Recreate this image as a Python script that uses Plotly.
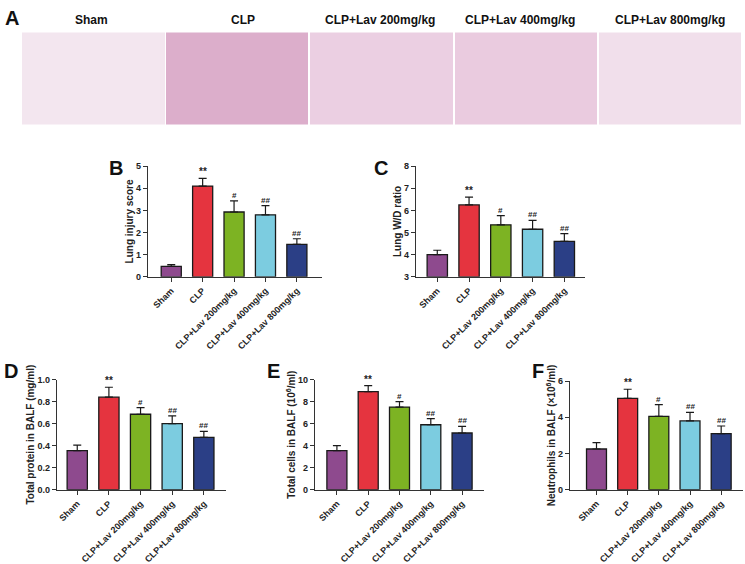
import plotly.graph_objects as go

W, H = 745, 564
FONT = "Arial, Liberation Sans, sans-serif"

groups = ["Sham", "CLP", "CLP+Lav 200mg/kg", "CLP+Lav 400mg/kg", "CLP+Lav 800mg/kg"]
colors = ["#8E4A8E", "#E5343F", "#7DB323", "#7CCCE0", "#2B3F86"]
sig = ["", "**", "#", "##", "##"]

# Panel B: lung injury score
b_mean = [0.47, 4.10, 2.93, 2.80, 1.47]
b_err = [0.08, 0.35, 0.50, 0.42, 0.25]
# Panel C: lung W/D ratio
c_mean = [4.00, 6.25, 5.35, 5.15, 4.60]
c_err = [0.20, 0.35, 0.42, 0.40, 0.35]
# Panel D: total protein in BALF
d_mean = [0.355, 0.84, 0.685, 0.60, 0.475]
d_err = [0.050, 0.09, 0.060, 0.07, 0.055]
# Panel E: total cells in BALF
e_mean = [3.55, 8.90, 7.50, 5.90, 5.15]
e_err = [0.45, 0.55, 0.50, 0.55, 0.60]
# Panel F: neutrophils in BALF
f_mean = [2.25, 5.05, 4.05, 3.80, 3.10]
f_err = [0.35, 0.50, 0.65, 0.47, 0.42]

# Panel A (histology photos) – approximated by their average tint
a_tints = ["#F3E6EF", "#DCAECB", "#EBCFE2", "#EACBDF", "#F1DFEB"]

def px_x(a, b):
    return [a / W, b / W]

def px_y(top, bottom):
    return [1 - bottom / H, 1 - top / H]

panels = [
    dict(key="B", mean=b_mean, err=b_err, xd=px_x(148, 322), yd=px_y(164.7, 277.7),
         yr=[0, 5], dt=1, xr=[-0.74, 4.8], title="Lung injury score", fmt="", letter=(107, 153)),
    dict(key="C", mean=c_mean, err=c_err, xd=px_x(416, 585), yd=px_y(164.7, 277.7),
         yr=[3, 8], dt=1, xr=[-0.67, 4.65], title="Lung W/D ratio", fmt="", base=3, letter=(372, 153)),
    dict(key="D", mean=d_mean, err=d_err, xd=px_x(57, 226), yd=px_y(382.7, 495.3),
         yr=[0, 1], dt=0.2, xr=[-0.64, 4.7], title="Total protein in BALF (mg/ml)", fmt=".1f", letter=(2, 361)),
    dict(key="E", mean=e_mean, err=e_err, xd=px_x(315, 484), yd=px_y(382.7, 495.3),
         yr=[0, 10], dt=2, xr=[-0.7, 4.7], title="Total cells in BALF (10<sup>6</sup>/ml)", fmt="", letter=(265, 361)),
    dict(key="F", mean=f_mean, err=f_err, xd=px_x(570, 743), yd=px_y(384.3, 495.3),
         yr=[0, 6], dt=2, xr=[-0.85, 4.7], title="Neutrophils in BALF (×10<sup>6</sup>/ml)", fmt="", letter=(530, 361)),
]

fig = go.Figure()
layout = dict(
    width=W, height=H, margin=dict(l=0, r=0, t=0, b=0),
    paper_bgcolor="white", plot_bgcolor="rgba(0,0,0,0)",
    showlegend=False,
    font=dict(family=FONT, color="#222222"),
)
annotations = []
shapes = []

for i, p in enumerate(panels):
    n = i + 1
    xa = "x" if n == 1 else f"x{n}"
    ya = "y" if n == 1 else f"y{n}"
    base = p.get("base", 0)
    fig.add_trace(go.Bar(
        x=list(range(len(groups))), y=[m - base for m in p["mean"]], base=base,
        xaxis=xa, yaxis=ya,
        marker=dict(color=colors, line=dict(color="#1a1a1a", width=1.3)),
        width=0.64,
        error_y=dict(type="data", symmetric=False, array=p["err"],
                     arrayminus=[0] * len(groups), color="#1a1a1a",
                     thickness=1.2, width=4),
        hoverinfo="skip",
    ))
    axis_font = dict(family=FONT, size=9, color="#222222", weight="bold")
    layout["xaxis" if n == 1 else f"xaxis{n}"] = dict(
        domain=p["xd"], anchor=ya, range=p["xr"],
        tickmode="array", tickvals=list(range(len(groups))), ticktext=groups,
        tickangle=-45, tickfont=axis_font,
        showline=True, linecolor="#333333", linewidth=1.4,
        ticks="outside", ticklen=4, tickwidth=1.2, tickcolor="#333333",
        showgrid=False, zeroline=False, fixedrange=True,
    )
    layout["yaxis" if n == 1 else f"yaxis{n}"] = dict(
        domain=p["yd"], anchor=xa, range=p["yr"],
        tick0=p["yr"][0], dtick=p["dt"], tickformat=p["fmt"], tickfont=axis_font,
        showline=True, linecolor="#333333", linewidth=1.4,
        ticks="outside", ticklen=4, tickwidth=1.2, tickcolor="#333333",
        showgrid=False, zeroline=False, fixedrange=True,
        title=dict(text=p["title"], font=dict(family=FONT, size=10, color="#222222", weight="bold"),
                   standoff=0),
    )
    for j, s in enumerate(sig):
        if s:
            annotations.append(dict(
                x=j, y=p["mean"][j] + p["err"][j], xref=xa, yref=ya, xanchor="center",
                text=f"<b>{s}</b>", showarrow=False, yanchor="bottom",
                yshift=-1, font=dict(family=FONT, size=10 if s == "**" else 8, color="#222222"),
            ))
    lx, ly = p["letter"]
    annotations.append(dict(
        x=lx / W, y=1 - ly / H, xref="paper", yref="paper", xanchor="left", yanchor="top",
        text=f"<b>{p['key']}</b>", showarrow=False,
        font=dict(family=FONT, size=20, color="#111111"),
    ))

# Panel A
img_bounds = [(22, 165), (166, 308), (310, 453), (455, 597), (599, 741)]
title_x = [91, 243, 380, 520, 670]
for (x0, x1), tint, tx, g in zip(img_bounds, a_tints, title_x, groups):
    shapes.append(dict(type="rect", xref="paper", yref="paper",
                       x0=x0 / W, x1=x1 / W, y0=1 - 122 / H, y1=1 - 28 / H,
                       fillcolor=tint, line=dict(width=0), layer="below"))
    annotations.append(dict(x=tx / W, y=1 - 15 / H, xref="paper", yref="paper",
                            xanchor="center", yanchor="middle",
                            text=f"<b>{g}</b>", showarrow=False,
                            font=dict(family=FONT, size=12, color="#111111")))
annotations.append(dict(x=3 / W, y=1, xref="paper", yref="paper", xanchor="left",
                        yanchor="top", text="<b>A</b>", showarrow=False,
                        font=dict(family=FONT, size=20, color="#111111")))

layout["annotations"] = annotations
layout["shapes"] = shapes
fig.update_layout(**layout)
fig.write_html("out.html", config={"displayModeBar": False},
               post_script="document.body.style.margin='0';")
